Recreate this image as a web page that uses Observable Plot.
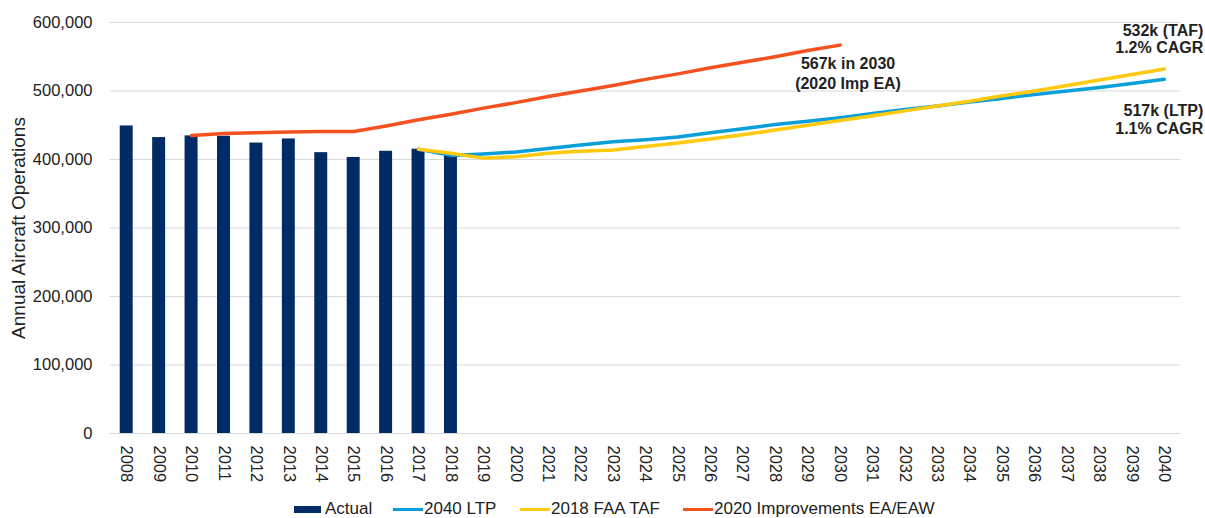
<!DOCTYPE html>
<html>
<head>
<meta charset="utf-8">
<script src="https://cdn.jsdelivr.net/npm/d3@7"></script>
<script src="https://cdn.jsdelivr.net/npm/@observablehq/plot@0.6"></script>
<style>
  body { margin: 0; background: #fff; font-family: "Liberation Sans", Arial, sans-serif; }
  #chart svg { display: block; }
  #legend { height: 23px; position: relative; font-size: 17px; color: #222; }
  .item { position: absolute; top: 4px; display: flex; align-items: center; white-space: nowrap; }
  .sw-bar { width: 27px; height: 7px; margin-right: 4px; }
  .sw-line { width: 30px; height: 3px; margin-right: 1px; }
</style>
</head>
<body>
<div id="chart"></div>
<div id="legend"></div>
<script>
// ---- data ----
const years = d3.range(2008, 2041).map(String);

const actualYears = ["2008","2009","2010","2011","2012","2013","2014","2015","2016","2017","2018"];
const actualValues = [449000, 432000, 434500, 434000, 424000, 430000, 410000, 403000, 412000, 415000, 405000];

const ltpYears = ["2017","2018","2019","2020","2021","2022","2023","2024","2025","2026","2027","2028","2029","2030","2031","2032","2033","2034","2035","2036","2037","2038","2039","2040"];
const ltpValues = [415000, 406000, 408000, 411000, 416000, 421000, 426000, 429000, 433000, 439000, 445000, 451000, 456000, 461000, 467000, 473000, 478000, 484000, 489000, 495000, 500000, 505000, 511000, 517000];

const tafYears = ltpYears;
const tafValues = [415000, 409000, 402000, 404000, 409000, 412000, 414000, 419000, 424000, 430000, 436000, 443000, 450000, 457000, 464000, 471000, 478000, 485000, 493000, 500000, 508000, 516000, 524000, 532000];

const impYears = ["2010","2011","2012","2013","2014","2015","2016","2017","2018","2019","2020","2021","2022","2023","2024","2025","2026","2027","2028","2029","2030"];
const impValues = [435000, 438000, 439000, 440000, 441000, 441000, 449000, 458000, 466000, 475000, 483000, 492000, 500000, 508000, 517000, 525000, 534000, 542000, 550000, 559000, 567000];

const yTicks = [0, 100000, 200000, 300000, 400000, 500000, 600000];

const seriesNames = ["Actual", "2040 LTP", "2018 FAA TAF", "2020 Improvements EA/EAW"];
const seriesColors = ["#002B66", "#0A9FD9", "#FFC90E", "#F4511E"];

const annoText = ["567k in 2030\n(2020 Imp EA)", "532k (TAF)\n1.2% CAGR", "517k (LTP)\n1.1% CAGR"];
const annoYear = ["2030", "2040", "2040"];
const annoValue = [567000, 532000, 517000];

// ---- build ----
const zip = (xs, vs) => xs.map((x, i) => ({year: x, value: vs[i]}));
const actual = zip(actualYears, actualValues);
const ltp = zip(ltpYears, ltpValues);
const taf = zip(tafYears, tafValues);
const imp = zip(impYears, impValues);
const annos = annoText.map((t, i) => ({text: t, year: annoYear[i], value: annoValue[i]}));

const textColor = "#222";
const gridColor = "#d9d9d9";

const chart = Plot.plot({
  width: 1205,
  height: 495,
  marginTop: 22,
  marginBottom: 62,
  marginLeft: 110,
  marginRight: 25,
  style: {fontFamily: "'Liberation Sans', Arial, sans-serif", fontSize: "16.5px", color: textColor, background: "#fff"},
  x: {type: "band", domain: years, paddingInner: 0.6, paddingOuter: 0.3, round: false},
  y: {domain: [0, 600000]},
  marks: [
    Plot.gridY(yTicks, {stroke: gridColor, strokeOpacity: 1, strokeWidth: 1}),
    Plot.ruleY([0], {stroke: gridColor, strokeWidth: 1}),
    Plot.axisY(yTicks, {tickFormat: d3.format(","), tickSize: 0, tickPadding: 18, label: null, fontSize: 16.5}),
    Plot.text(["Annual Aircraft Operations"], {frameAnchor: "left", textAnchor: "middle", dx: -92, rotate: -90, fontSize: 19, fill: textColor}),
    Plot.axisX({tickSize: 0, tickPadding: 12, tickRotate: 90, label: null, fontSize: 16.5}),
    Plot.barY(actual, {x: "year", y: "value", fill: seriesColors[0]}),
    Plot.line(ltp, {x: "year", y: "value", stroke: seriesColors[1], strokeWidth: 3.5}),
    Plot.line(taf, {x: "year", y: "value", stroke: seriesColors[2], strokeWidth: 3.5}),
    Plot.line(imp, {x: "year", y: "value", stroke: seriesColors[3], strokeWidth: 3.5}),
    Plot.text([annos[0]], {x: "year", y: "value", text: "text", dx: 8, dy: 27.5, lineAnchor: "middle", lineHeight: 1.25, fontSize: 16, fontWeight: "bold", fill: textColor}),
    Plot.text([annos[1]], {x: "year", y: "value", text: "text", dx: 39, dy: -30, textAnchor: "end", lineAnchor: "middle", lineHeight: 1.08, fontSize: 16, fontWeight: "bold", fill: textColor}),
    Plot.text([annos[2]], {x: "year", y: "value", text: "text", dx: 39, dy: 40, textAnchor: "end", lineAnchor: "middle", lineHeight: 1.08, fontSize: 16, fontWeight: "bold", fill: textColor})
  ]
});
document.getElementById("chart").appendChild(chart);

// ---- legend ----
const legend = document.getElementById("legend");
const legendX = [294, 393, 520, 683];
seriesNames.forEach((name, i) => {
  const item = document.createElement("div");
  item.className = "item";
  item.style.left = legendX[i] + "px";
  const sw = document.createElement("span");
  sw.className = i === 0 ? "sw-bar" : "sw-line";
  sw.style.background = seriesColors[i];
  const label = document.createElement("span");
  label.textContent = name;
  item.appendChild(sw);
  item.appendChild(label);
  legend.appendChild(item);
});
</script>
</body>
</html>
